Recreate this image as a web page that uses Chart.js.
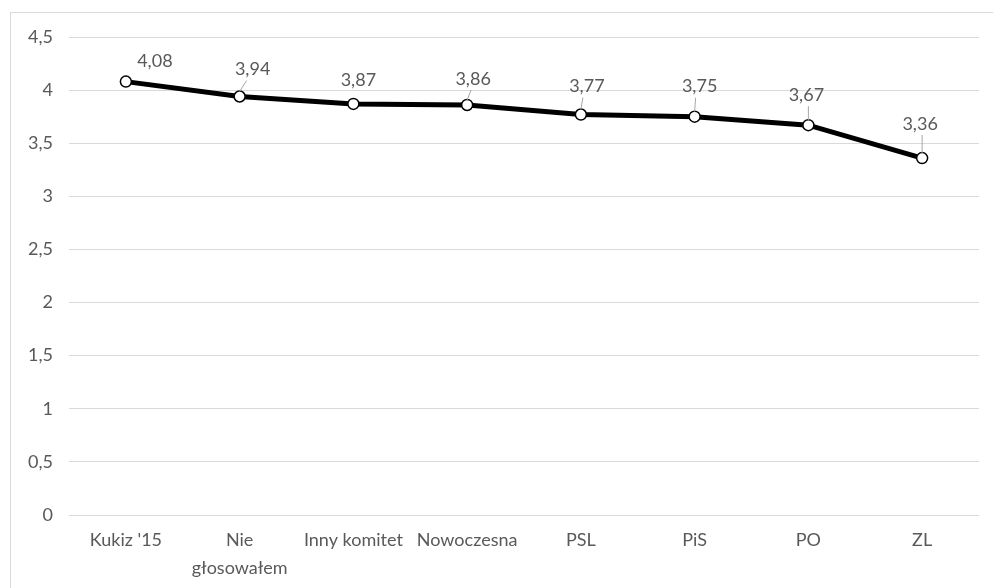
<!DOCTYPE html>
<html>
<head>
<meta charset="utf-8">
<script src="https://cdn.jsdelivr.net/npm/chart.js@4.4.0/dist/chart.umd.min.js"></script>
<style>
  html, body { margin: 0; padding: 0; background: #fff; }
  #wrap { position: relative; width: 993px; height: 588px; overflow: hidden; }
  #frame { position: absolute; left: 10px; top: 12px; width: 1000px; height: 600px; border: 1px solid #d9d9d9; }
  #chart { position: absolute; left: 0; top: 0; }
</style>
</head>
<body>
<div id="wrap">
  <div id="frame"></div>
  <canvas id="chart" width="993" height="588"></canvas>
</div>
<script>
// categories and values
var categories = ["Kukiz '15", ['Nie', 'głosowałem'], 'Inny komitet', 'Nowoczesna', 'PSL', 'PiS', 'PO', 'ZL'];
var values = [4.08, 3.94, 3.87, 3.86, 3.77, 3.75, 3.67, 3.36];
var yTicks = [0, 0.5, 1, 1.5, 2, 2.5, 3, 3.5, 4, 4.5];

var FONT = 'Lato, "Open Sans", sans-serif';

function comma(v) {
    return String(v).replace('.', ',');
}

// Excel-like data labels with small leader lines
var dataLabels = {
    id: 'dataLabels',
    afterDatasetsDraw: function(chart, args, opts) {
        var ctx = chart.ctx;
        var meta = chart.getDatasetMeta(0);
        ctx.save();
        ctx.font = '18px ' + FONT;
        ctx.textAlign = 'center';
        ctx.textBaseline = 'middle';
        meta.data.forEach(function(pt, i) {
            var off = opts.offsets[i];
            var lx = pt.x + off[0], ly = pt.y + off[1];
            if (off[2]) {
                ctx.strokeStyle = '#a6a6a6';
                ctx.lineWidth = 1;
                ctx.beginPath();
                ctx.moveTo(lx + off[2][0], ly + 11);
                ctx.lineTo(pt.x + off[2][1], pt.y - 5);
                ctx.stroke();
            }
            ctx.fillStyle = '#595959';
            ctx.fillText(comma(chart.data.datasets[0].data[i]), lx, ly);
        });
        ctx.restore();
    }
};

new Chart(document.getElementById('chart').getContext('2d'), {
    type: 'line',
    data: {
        labels: categories,
        datasets: [{
            data: values,
            borderColor: '#000',
            borderWidth: 5,
            pointRadius: 5.5,
            pointBorderWidth: 1.5,
            pointBackgroundColor: '#fff',
            pointBorderColor: '#000',
            tension: 0
        }]
    },
    options: {
        responsive: false,
        animation: false,
        layout: { padding: { top: 37, right: 14, left: 0, bottom: 0 } },
        plugins: {
            legend: { display: false },
            tooltip: { enabled: false },
            dataLabels: {
                offsets: [[29, -20], [13, -27, [-6, 0]], [5, -24], [6, -26, [-2, 0]], [6, -28, [-4, 0]], [5, -30, [-4, 0]], [-2, -30, [2, 0]], [-2, -34, [2, 0]]]
            }
        },
        scales: {
            x: {
                offset: true,
                grid: { display: false, drawTicks: false },
                border: { display: false },
                ticks: { color: '#595959', font: { family: FONT, size: 18, lineHeight: 1.55 }, padding: 11, maxRotation: 0, autoSkip: false },
                afterFit: function(s) { s.height = 73; }
            },
            y: {
                min: 0,
                max: 4.5,
                afterBuildTicks: function(s) { s.ticks = yTicks.map(function(v) { return { value: v }; }); },
                grid: { color: '#d9d9d9', lineWidth: 1, drawTicks: false },
                border: { display: false },
                ticks: { color: '#595959', font: { family: FONT, size: 18 }, padding: 16, callback: function(v) { return comma(v); } },
                afterFit: function(s) { s.width = 69; }
            }
        }
    },
    plugins: [dataLabels]
});
</script>
</body>
</html>
